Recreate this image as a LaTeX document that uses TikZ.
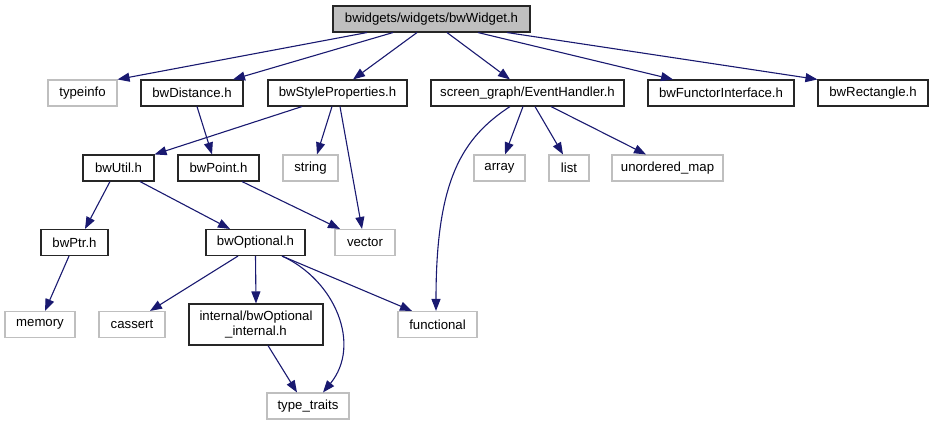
\documentclass[tikz,border=0pt]{standalone}
\usepackage{fontspec}
\setmainfont{Liberation Sans}
\usetikzlibrary{arrows.meta}
\definecolor{edgeBlue}{HTML}{191970}
\definecolor{sysStroke}{HTML}{BFBFBF}
\definecolor{rootFill}{HTML}{BFBFBF}
\tikzset{
  base/.style={
    rectangle, draw, line width=1.1pt,
    minimum height=26pt, inner sep=0pt,
    align=center,
    font=\fontsize{13.2}{14.5}\selectfont
  },
  hdr/.style={base, draw=black!85},
  sys/.style={base, draw=sysStroke},
  root/.style={base, draw=black!85, fill=rootFill},
  dep/.style={-{Triangle[length=12pt,width=9pt]}, edgeBlue, line width=1.1pt},
}

\begin{document}
\begin{tikzpicture}[x=1pt, y=-1pt]
    \useasboundingbox (0,0) rectangle (933,425);

    \node[root, minimum width=197pt] (widget) at (431.5,19) {bwidgets/widgets/bwWidget.h};

    \node[sys, minimum width=69pt] (typeinfo) at (82.5,93) {typeinfo};
    \node[hdr, minimum width=102pt] (distance) at (192,93) {bwDistance.h};
    \node[hdr, minimum width=139pt] (styleprops) at (337.5,93) {bwStyleProperties.h};
    \node[hdr, minimum width=193pt] (eventhandler) at (527.5,93) {screen\_graph/EventHandler.h};
    \node[hdr, minimum width=146pt] (functor) at (721,93) {bwFunctorInterface.h};
    \node[hdr, minimum width=110pt] (rectangle) at (873,93) {bwRectangle.h};

    \node[hdr, minimum width=71pt] (util) at (118.5,168) {bwUtil.h};
    \node[hdr, minimum width=81pt] (point) at (218.5,168) {bwPoint.h};
    \node[sys, minimum width=55pt] (string) at (310.5,168) {string};
    \node[sys, minimum width=51pt] (array) at (499.5,168) {array};
    \node[sys, minimum width=40pt] (list) at (569,168) {list};
    \node[sys, minimum width=111pt] (umap) at (667.5,168) {unordered\_map};

    \node[hdr, minimum width=67pt] (ptr) at (74.5,242.5) {bwPtr.h};
    \node[hdr, minimum width=99pt] (optional) at (255.5,242.5) {bwOptional.h};
    \node[sys, minimum width=60pt] (vector) at (365,242.5) {vector};

    \node[sys, minimum width=70pt] (memory) at (40,324.5) {memory};
    \node[sys, minimum width=66pt] (cassert) at (132,324.5) {cassert};
    \node[hdr, minimum width=134pt, minimum height=41pt] (optinternal) at (256,324.5) {internal/bwOptional\\\_internal.h};
    \node[sys, minimum width=79pt] (functional) at (437.5,324.5) {functional};

    \node[sys, minimum width=82pt] (typetraits) at (308,406) {type\_traits};

    % bwWidget.h includes
    \draw[dep] ([xshift=-64.5pt]widget.south) -- (typeinfo.north east);
    \draw[dep] ([xshift=-38.5pt]widget.south) -- ([xshift=41pt]distance.north);
    \draw[dep] ([xshift=-14.5pt]widget.south) -- ([xshift=15.5pt]styleprops.north);
    \draw[dep] ([xshift=15.5pt]widget.south) -- ([xshift=-17.5pt]eventhandler.north);
    \draw[dep] ([xshift=46.5pt]widget.south) -- ([xshift=-48pt]functor.north);
    \draw[dep] ([xshift=75.5pt]widget.south) -- (rectangle.north west);

    % second level
    \draw[dep] ([xshift=-35.5pt]styleprops.south) -- (util.north east);
    \draw[dep] ([xshift=-5.5pt]styleprops.south) -- ([xshift=6.5pt]string.north);
    \draw[dep] ([xshift=2.5pt]styleprops.south) -- ([xshift=-3pt]vector.north);
    \draw[dep] ([xshift=5pt]distance.south) -- ([xshift=-6.5pt]point.north);
    \draw[dep] ([xshift=23.5pt]point.south) -- ([xshift=-25pt]vector.north);
    \draw[dep] ([xshift=-17.5pt]eventhandler.south)
      .. controls (462,138) and (436,180) .. ([xshift=-1.5pt]functional.north);
    \draw[dep] ([xshift=-4.5pt]eventhandler.south) -- ([xshift=5.5pt]array.north);
    \draw[dep] ([xshift=7.5pt]eventhandler.south) -- ([xshift=-6pt]list.north);
    \draw[dep] ([xshift=23.5pt]eventhandler.south) -- ([xshift=-21.5pt]umap.north);

    % bwUtil.h and below
    \draw[dep] ([xshift=-8.5pt]util.south) -- ([xshift=10.5pt]ptr.north);
    \draw[dep] ([xshift=21.5pt]util.south) -- ([xshift=-25.5pt]optional.north);
    \draw[dep] ([xshift=-5.5pt]ptr.south) -- ([xshift=5pt]memory.north);
    \draw[dep] ([xshift=-17.5pt]optional.south) -- ([xshift=18pt]cassert.north);
    \draw[dep] (optional.south) -- (optinternal.north);
    \draw[dep] ([xshift=26.5pt]optional.south) -- ([xshift=-25.5pt]functional.north);
    \draw[dep] ([xshift=26.5pt]optional.south)
      .. controls (335,280) and (362,345) .. ([xshift=15pt]typetraits.north);
    \draw[dep] ([xshift=12pt]optinternal.south) -- ([xshift=-11pt]typetraits.north);
\end{tikzpicture}
\end{document}
